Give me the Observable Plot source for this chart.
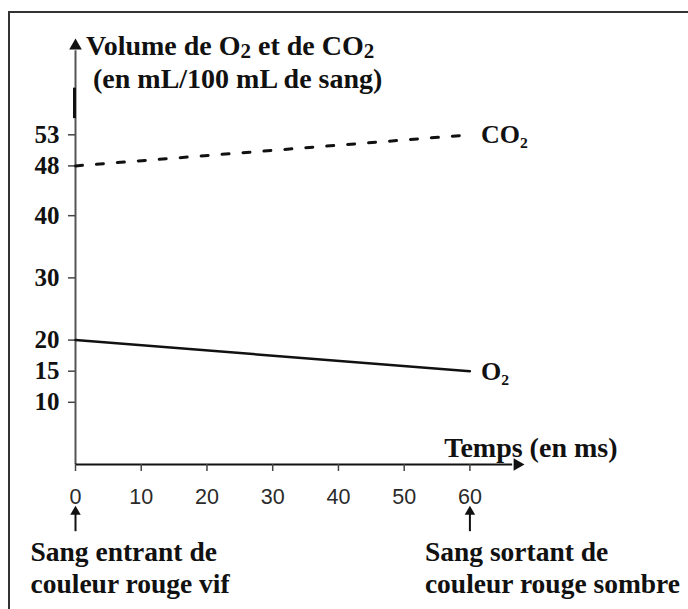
<!DOCTYPE html>
<html>
<head>
<meta charset="utf-8">
<script src="https://cdn.jsdelivr.net/npm/d3@7"></script>
<script src="https://cdn.jsdelivr.net/npm/@observablehq/plot@0.6"></script>
<style>
  html, body { margin: 0; padding: 0; background: #fff; }
  #wrap { position: relative; width: 688px; height: 609px; overflow: hidden; background: #fff; }
  #frame { position: absolute; left: 8px; top: 11px; right: -10px; bottom: -10px;
           border-top: 2px solid #333; border-left: 2px solid #333; pointer-events: none; }
  #title { position: absolute; left: 86px; top: 29px; font-family: "Liberation Serif", "Times New Roman", Tinos, "DejaVu Serif", serif;
           font-weight: bold; font-size: 28px; line-height: 33px; color: #111; white-space: nowrap; }
  #title sub { font-size: 0.75em; vertical-align: -0.15em; line-height: 0; }
  #chart { position: absolute; left: 0; top: 0; }
</style>
</head>
<body>
<div id="wrap">
  <div id="chart"></div>
  <div id="frame"></div>
  <div id="title">Volume de O<sub>2</sub> et de CO<sub>2</sub><br>&nbsp;(en mL/100 mL de sang)</div>
</div>
<script>
// ---- data ----
const times = [0, 60];
const o2 = [20, 15];
const co2 = [48, 53];
const seriesNames = ["CO₂", "O₂"];
const seriesEnd = [53, 15];
const xTicks = [0, 10, 20, 30, 40, 50, 60];
const yTicks = [10, 15, 20, 30, 40, 48, 53];
const annX = [0, 60];
const annText = ["Sang entrant de\ncouleur rouge vif", "Sang sortant de\ncouleur rouge sombre"];
const xLabel = "Temps (en ms)";

const o2Data = times.map((t, i) => ({t, v: o2[i]}));
const co2Data = times.map((t, i) => ({t, v: co2[i]}));
const ends = seriesNames.map((n, i) => ({t: times[times.length - 1], v: seriesEnd[i], n}));
const ann = annX.map((t, i) => ({t, s: annText[i]}));

const serif = "'Liberation Serif', 'Times New Roman', Tinos, 'DejaVu Serif', serif";
const sans = "'Liberation Sans', Arial, sans-serif";

const chart = Plot.plot({
  width: 688,
  height: 609,
  marginLeft: 75,
  marginRight: 166,
  marginTop: 41,
  marginBottom: 145,
  style: {fontFamily: serif, background: "transparent", color: "#111", overflow: "visible"},
  x: {domain: [0, 68], axis: null, label: null},
  y: {domain: [0, 68], axis: null, label: null},
  marks: [
    // y axis line + arrow
    Plot.ruleX([0], {y1: 0, y2: 66.5, stroke: "#555", strokeWidth: 2}),
    Plot.ruleX([0], {y1: 55.6, y2: 60.5, stroke: "#111", strokeWidth: 3, dx: -1}),
    Plot.dot([0], {x: d => d, y: 67.3, symbol: "triangle2", r: 6, fill: "#111", stroke: "none"}),
    // x axis line + arrow
    Plot.ruleY([0], {x1: 0, x2: 66.5, stroke: "#111", strokeWidth: 2}),
    Plot.dot([0], {x: 67.2, y: d => d, symbol: "triangle2", r: 6, rotate: 90, fill: "#111", stroke: "none"}),
    // axes
    Plot.axisY({ticks: yTicks, tickSize: 7, tickPadding: 9, fontSize: 25, fontWeight: "bold",
                fontFamily: serif, stroke: "#444", strokeWidth: 1.5, label: null}),
    Plot.axisX({ticks: xTicks, tickSize: 7, tickPadding: 17, fontSize: 21.5,
                fontFamily: sans, stroke: "#444", strokeWidth: 1.5, fill: "#2a2a2a", label: null}),
    // x axis label
    Plot.text([xLabel], {frameAnchor: "bottom-right", text: d => d, textAnchor: "end",
                         lineAnchor: "bottom", dx: 95, dy: -8, fontSize: 28, fontWeight: "bold",
                         fontFamily: serif, fill: "#111"}),
    // series
    Plot.line(co2Data, {x: "t", y: "v", stroke: "#111", strokeWidth: 3, strokeDasharray: "7,14"}),
    Plot.line(o2Data, {x: "t", y: "v", stroke: "#111", strokeWidth: 2.5}),
    Plot.text(ends, {x: "t", y: "v", text: "n", textAnchor: "start", dx: 11, fontSize: 26,
                     fontWeight: "bold", fontFamily: serif, fill: "#111"}),
    // annotations below the axis
    Plot.ruleX(ann, {x: "t", y1: -10.8, y2: -7.6, stroke: "#111", strokeWidth: 2}),
    Plot.dot(ann, {x: "t", y: -7.6, symbol: "triangle2", r: 5, fill: "#111", stroke: "none"}),
    Plot.text(ann, {x: "t", frameAnchor: "bottom", text: "s", textAnchor: "start", lineAnchor: "top",
                    dx: -45, dy: 73, lineHeight: 1.19, fontSize: 27.5, fontWeight: "bold",
                    fontFamily: serif, fill: "#111"})
  ]
});
document.getElementById("chart").appendChild(chart);
</script>
</body>
</html>
